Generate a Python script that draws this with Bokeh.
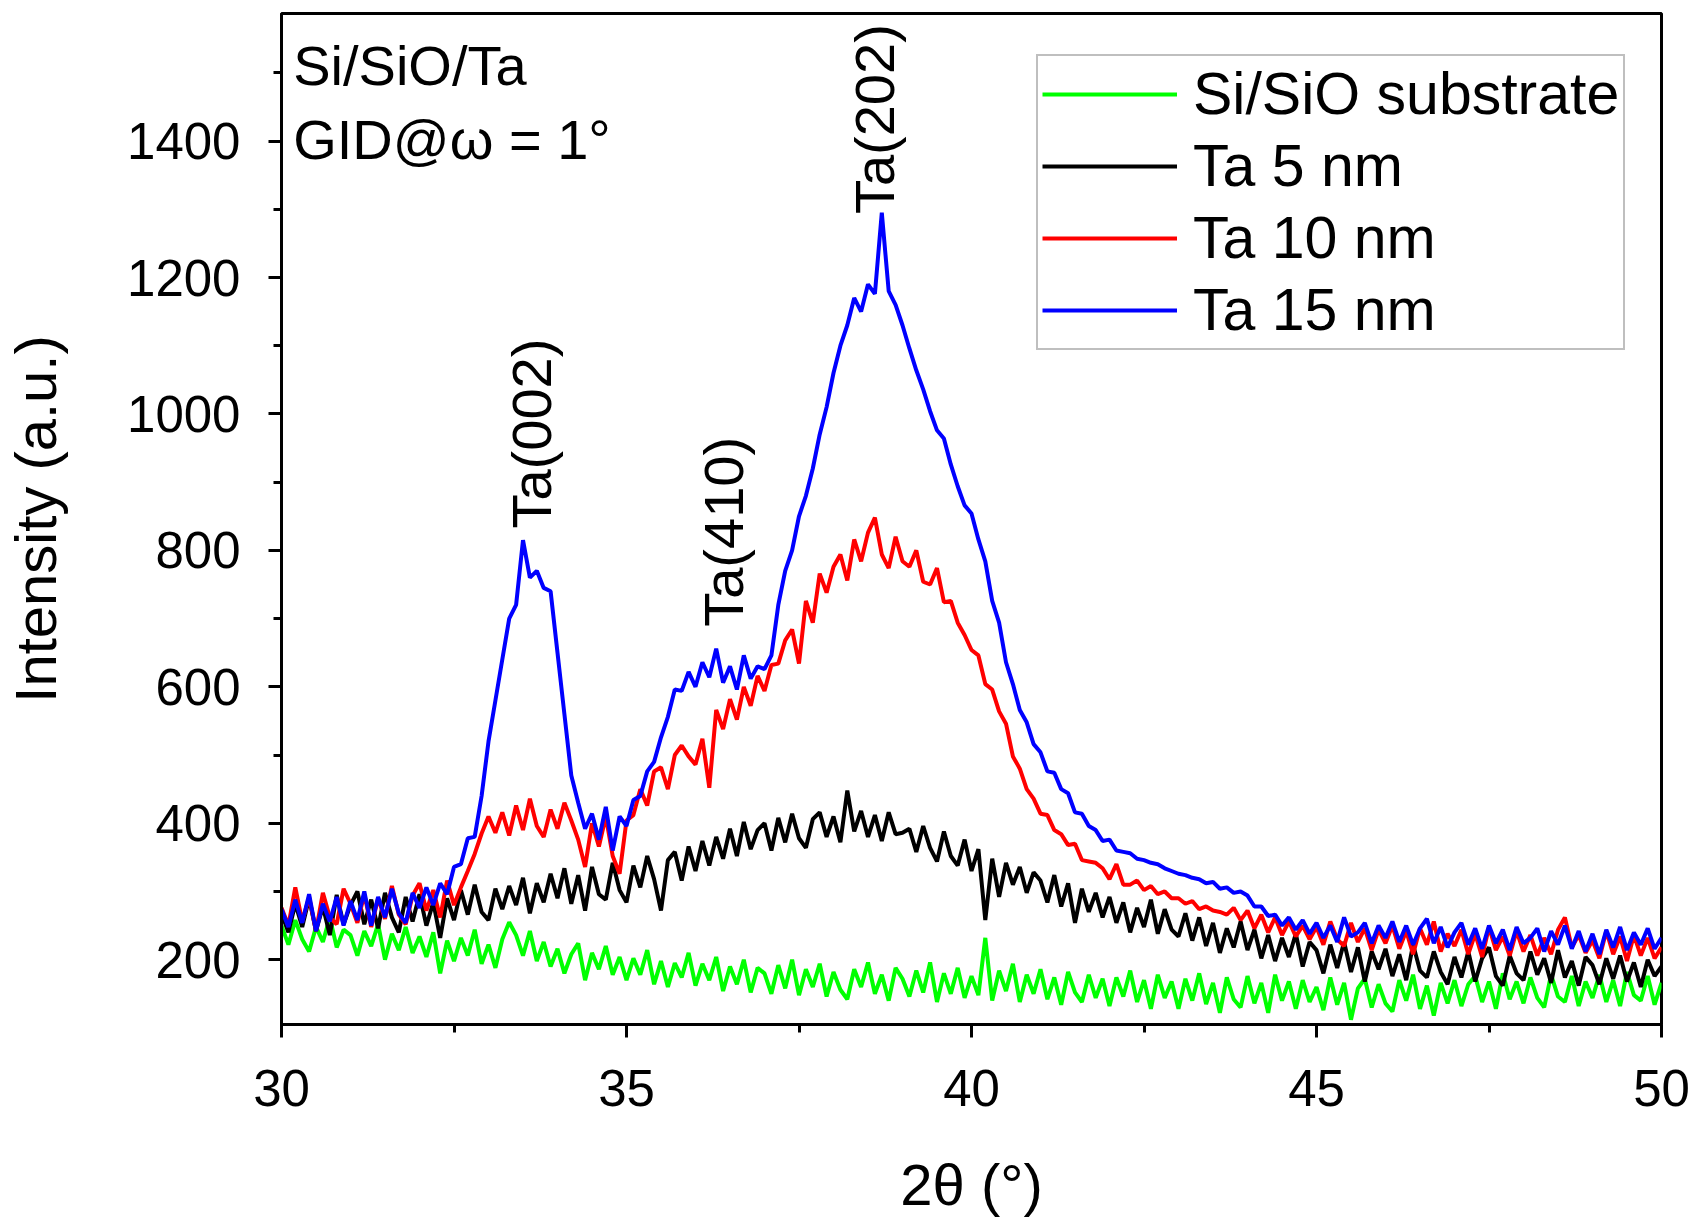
from math import pi

from bokeh.plotting import figure
from bokeh.models import SingleIntervalTicker, Range1d, Label
from bokeh.embed import file_html
from bokeh.resources import INLINE

# 2theta grid, 0.1 deg steps from 30 to 50
two_theta = [round(30 + 0.1 * i, 1) for i in range(201)]

# intensities, one row per degree (30.0 .. 30.9, 31.0 .. 31.9, ...)
substrate = [
    250, 222, 258, 230, 212, 248, 226, 262, 218, 244,
    236, 206, 242, 220, 252, 200, 238, 214, 248, 210,
    234, 204, 240, 180, 228, 198, 232, 206, 244, 194,
    222, 188, 230, 255, 236, 206, 242, 198, 226, 190,
    216, 180, 208, 224, 170, 210, 186, 220, 178, 204,
    170, 202, 178, 214, 164, 198, 160, 195, 174, 210,
    162, 194, 170, 204, 154, 190, 164, 200, 152, 188,
    180, 150, 192, 158, 200, 148, 186, 160, 194, 146,
    182, 156, 142, 186, 160, 196, 150, 178, 140, 188,
    172, 146, 184, 152, 196, 138, 180, 150, 188, 144,
    176, 148, 232, 140, 184, 154, 194, 138, 178, 150,
    186, 142, 174, 134, 182, 152, 138, 178, 144, 172,
    132, 174, 146, 184, 138, 170, 128, 178, 144, 168,
    128, 172, 140, 180, 135, 166, 122, 174, 142, 130,
    176, 136, 166, 122, 178, 140, 168, 128, 170, 138,
    160, 126, 174, 134, 166, 112, 158, 172, 130, 164,
    136, 124, 170, 140, 178, 128, 162, 118, 166, 136,
    170, 132, 164, 176, 138, 168, 128, 180, 142, 168,
    136, 174, 144, 130, 178, 146, 138, 176, 132, 168,
    144, 178, 138, 170, 132, 182, 148, 140, 176, 134,
    166,
]

ta_5nm = [
    268, 240, 282, 248, 290, 242, 278, 236, 295, 252,
    280, 300, 252, 288, 246, 298, 262, 240, 292, 256,
    296, 250, 284, 232, 290, 258, 302, 266, 310, 270,
    258, 304, 274, 308, 280, 320, 268, 312, 284, 326,
    290, 334, 282, 324, 272, 336, 296, 288, 342, 302,
    284, 338, 306, 352, 318, 272, 346, 358, 316, 366,
    330, 374, 338, 380, 348, 392, 352, 402, 362, 390,
    400, 360, 408, 372, 414, 378, 364, 406, 416, 380,
    410, 372, 448, 388, 418, 380, 412, 374, 416, 384,
    386, 392, 358, 396, 364, 344, 388, 352, 338, 376,
    330, 362, 258, 348, 292, 342, 310, 336, 298, 328,
    316, 284, 324, 278, 312, 254, 304, 270, 298, 262,
    292, 254, 284, 240, 276, 248, 288, 238, 274, 244,
    234, 268, 228, 262, 220, 254, 210, 246, 218, 256,
    214, 244, 202, 236, 198, 232, 204, 238, 190, 226,
    214, 180, 222, 188, 226, 182, 218, 168, 212, 186,
    216, 176, 208, 170, 222, 184, 174, 212, 182, 164,
    204, 174, 212, 168, 202, 218, 176, 162, 206, 180,
    170, 212, 178, 202, 166, 214, 174, 198, 162, 204,
    192, 164, 202, 172, 206, 168, 196, 160, 200, 176,
    190,
]

ta_10nm = [
    276, 250, 306, 256, 292, 242, 298, 262, 252, 304,
    282, 254, 296, 248, 290, 260, 308, 266, 252, 294,
    312, 272, 302, 262, 316, 280, 306, 330, 355, 385,
    410, 386, 416, 382, 426, 390, 436, 396, 380, 420,
    392, 430, 404, 376, 336, 400, 366, 410, 352, 326,
    404, 412, 450, 426, 476, 482, 450, 500, 514, 498,
    486, 524, 452, 566, 538, 582, 552, 600, 572, 616,
    594, 632, 634, 668, 684, 634, 726, 694, 766, 738,
    776, 794, 756, 816, 784, 826, 848, 794, 774, 820,
    784, 776, 800, 754, 750, 774, 724, 726, 694, 676,
    654, 646, 604, 596, 564, 546, 498, 480, 450, 436,
    414, 412, 390, 384, 368, 370, 346, 344, 342, 334,
    318, 340, 310, 310, 316, 302, 308, 296, 300, 290,
    290, 282, 286, 274, 278, 272, 270, 266, 276, 258,
    272, 246, 266, 240, 262, 236, 256, 234, 250, 230,
    248, 222, 256, 230, 220, 254, 226, 246, 214, 244,
    224, 250, 216, 242, 208, 246, 222, 256, 212, 238,
    220, 244, 208, 238, 204, 248, 214, 234, 206, 242,
    212, 236, 206, 232, 208, 244, 262, 218, 236, 210,
    228, 202, 242, 208, 234, 198, 236, 206, 232, 202,
    218,
]

ta_15nm = [
    274, 248, 288, 254, 296, 242, 282, 256, 292, 250,
    286, 258, 300, 250, 292, 262, 304, 268, 254, 298,
    276, 306, 280, 312, 296, 336, 340, 378, 380, 440,
    520, 580, 640, 700, 720, 815, 760, 770, 745, 740,
    650, 560, 470, 430, 392, 414, 376, 424, 360, 410,
    396, 434, 440, 476, 490, 526, 556, 596, 594, 622,
    600, 636, 614, 656, 606, 630, 596, 646, 612, 630,
    626, 646, 720, 770, 800, 850, 880, 920, 970, 1010,
    1060, 1100, 1130, 1170, 1150, 1190, 1176, 1295, 1180, 1160,
    1130, 1096, 1064, 1036, 1004, 976, 964, 926, 894, 866,
    854, 816, 784, 726, 694, 636, 604, 566, 548, 516,
    504, 476, 474, 450, 444, 416, 414, 396, 390, 374,
    376, 360, 358, 356, 348, 346, 342, 340, 334, 330,
    326, 324, 320, 318, 312, 314, 304, 306, 298, 300,
    294, 278, 278, 264, 266, 250, 262, 244, 258, 238,
    254, 232, 250, 226, 262, 234, 240, 254, 224, 250,
    232, 256, 226, 250, 222, 246, 260, 224, 248, 218,
    240, 254, 222, 246, 216, 250, 224, 244, 214, 248,
    224, 232, 246, 212, 242, 222, 250, 216, 242, 212,
    238, 208, 244, 218, 248, 214, 240, 222, 246, 216,
    232,
]

series_names = ["Si/SiO substrate", "Ta 5 nm", "Ta 10 nm", "Ta 15 nm"]
series_colors = ["#00ff00", "#000000", "#ff0000", "#0000ff"]

peak_labels = ["Ta(002)", "Ta(410)", "Ta(202)"]
peak_x = [33.63, 36.41, 38.59]
peak_y = [832, 688, 1293]

FONT = "Liberation Sans"

p = figure(frame_width=1380, frame_height=1011,
           x_range=Range1d(30, 50), y_range=Range1d(105, 1587),
           output_backend="svg", toolbar_location=None,
           min_border_left=281, min_border_right=29,
           min_border_top=13, min_border_bottom=191)

p.grid.visible = False
p.outline_line_color = "black"
p.outline_line_width = 3
p.background_fill_color = "white"
p.border_fill_color = "white"

for ys, name, col in zip([substrate, ta_5nm, ta_10nm, ta_15nm], series_names, series_colors):
    p.line(two_theta, ys, line_color=col, line_width=4, legend_label=name)

p.xaxis.ticker = SingleIntervalTicker(interval=5, num_minor_ticks=2)
p.yaxis.ticker = SingleIntervalTicker(interval=200, num_minor_ticks=2)
p.xaxis.axis_label = "2θ (°)"
p.yaxis.axis_label = "Intensity (a.u.)"
for ax in [p.xaxis[0], p.yaxis[0]]:
    ax.axis_line_width = 3
    ax.major_tick_line_width = 3
    ax.minor_tick_line_width = 3
    ax.major_tick_out = 13
    ax.major_tick_in = 0
    ax.minor_tick_out = 8
    ax.minor_tick_in = 0
    ax.major_label_text_font = FONT
    ax.major_label_text_font_size = "51px"
    ax.major_label_text_color = "black"
    ax.axis_label_text_font = FONT
    ax.axis_label_text_font_size = "58px"
    ax.axis_label_text_font_style = "normal"
    ax.axis_label_text_color = "black"
p.xaxis.major_label_standoff = 32
p.yaxis.major_label_standoff = 28
p.xaxis.axis_label_standoff = 43
p.yaxis.axis_label_standoff = 56

leg = p.legend[0]
leg.location = (755, 674)
leg.label_text_font = FONT
leg.label_text_font_size = "59px"
leg.label_text_color = "black"
leg.glyph_width = 135
leg.glyph_height = 40
leg.label_height = 40
leg.spacing = 4
leg.padding = 4
leg.label_standoff = 16
leg.border_line_color = "#808080"
leg.border_line_width = 2
leg.background_fill_alpha = 1.0

p.add_layout(Label(x=30.17, y=1511, text="Si/SiO/Ta", text_font=FONT,
                   text_font_size="56px", text_baseline="middle",
                   text_color="black"))
p.add_layout(Label(x=30.17, y=1403, text="GID@ω = 1°", text_font=FONT,
                   text_font_size="56px", text_baseline="middle",
                   text_color="black"))

for lab, px, py in zip(peak_labels, peak_x, peak_y):
    p.add_layout(Label(x=px, y=py, text=lab, angle=pi / 2, text_font=FONT,
                       text_font_size="56px", text_align="left",
                       text_baseline="middle", text_color="black"))

open("out.html", "w").write(file_html(p, INLINE))
